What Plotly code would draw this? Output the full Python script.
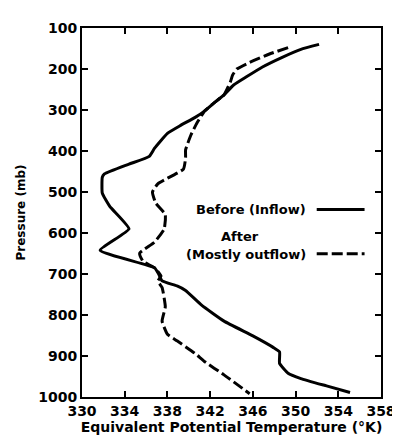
import plotly.graph_objects as go

# Before (Inflow) - solid
before_p = [140, 152, 172, 195, 219, 239, 263, 282, 302, 318, 338, 357, 393, 413, 432, 456, 464,
            503, 535, 590, 642, 685, 701, 717, 729, 740, 776, 815, 851, 879, 890, 918, 942, 955, 973, 989]
before_t = [352.2, 350.5, 348.7, 346.9, 345.4, 344.2, 343.3, 342.4, 341.5, 340.6, 339.2, 338.0, 336.8,
            336.3, 334.4, 332.1, 331.9, 331.9, 332.6, 334.4, 331.7, 336.8, 337.2, 337.5, 338.9, 339.7,
            341.2, 343.3, 346.0, 347.9, 348.5, 348.5, 349.3, 350.5, 352.9, 355.1]

# After (Mostly outflow) - dashed
after_p = [148, 164, 184, 200, 215, 231, 263, 282, 302, 330, 361, 397, 417, 444, 480, 500, 527, 555,
           590, 622, 649, 669, 685, 705, 717, 733, 780, 815, 847, 863, 894, 914, 946, 992]
after_t = [349.3, 347.5, 345.7, 344.5, 344.1, 343.9, 343.3, 342.4, 341.5, 340.8, 340.2, 339.7, 339.7,
           339.5, 337.1, 336.6, 336.9, 337.8, 337.7, 336.8, 335.4, 335.7, 336.8, 337.4, 337.1, 337.5,
           337.8, 337.5, 338.0, 338.9, 340.6, 341.5, 343.3, 345.7]

x_ticks = [330, 334, 338, 342, 346, 350, 354, 358]
y_ticks = [100, 200, 300, 400, 500, 600, 700, 800, 900, 1000]

FONT = "DejaVu Sans"

fig = go.Figure()
fig.add_trace(go.Scatter(x=before_t, y=before_p, mode="lines", name="Before (Inflow)",
                         line=dict(color="black", width=3, shape="spline", smoothing=0.4)))
fig.add_trace(go.Scatter(x=after_t, y=after_p, mode="lines", name="After (Mostly outflow)",
                         line=dict(color="black", width=3, dash="11px,4px", shape="spline", smoothing=0.4)))

axis_common = dict(showgrid=False, zeroline=False, showline=True, linecolor="black", linewidth=2,
                   mirror="ticks", ticks="inside", ticklen=6, tickwidth=1.5, tickcolor="black",
                   tickfont=dict(family=FONT, size=14, color="black", weight="bold"))

fig.update_xaxes(range=[330, 358], tickvals=x_ticks, ticktext=[str(v) for v in x_ticks],
                 title=dict(text="Equivalent Potential Temperature (°K)",
                            font=dict(family=FONT, size=14, color="black", weight="bold"), standoff=4),
                 **axis_common)
fig.update_yaxes(range=[1000, 100], tickvals=y_ticks, ticktext=[str(v) for v in y_ticks],
                 title=dict(text="Pressure (mb)",
                            font=dict(family=FONT, size=12, color="black", weight="bold"),
                            standoff=10),
                 **axis_common)

# Legend-like labels
ann_font = dict(family=FONT, size=13, color="black", weight="bold")
fig.add_annotation(xref="paper", yref="paper", x=0.755, y=0.508, text="Before (Inflow)",
                   showarrow=False, xanchor="right", yanchor="middle", font=ann_font)
fig.add_annotation(xref="paper", yref="paper", x=0.53, y=0.435, text="After",
                   showarrow=False, xanchor="center", yanchor="middle", font=ann_font)
fig.add_annotation(xref="paper", yref="paper", x=0.755, y=0.385, text="(Mostly outflow)",
                   showarrow=False, xanchor="right", yanchor="middle", font=ann_font)
fig.add_shape(type="line", xref="paper", yref="paper", x0=0.785, x1=0.945, y0=0.508, y1=0.508,
              line=dict(color="black", width=3))
fig.add_shape(type="line", xref="paper", yref="paper", x0=0.785, x1=0.945, y0=0.388, y1=0.388,
              line=dict(color="black", width=3, dash="11px,4px"))

fig.update_layout(width=400, height=437, margin=dict(l=71, r=16, t=13, b=44),
                  plot_bgcolor="white", paper_bgcolor="white", showlegend=False,
                  font=dict(family=FONT, color="black"))

fig.write_html("out.html")
